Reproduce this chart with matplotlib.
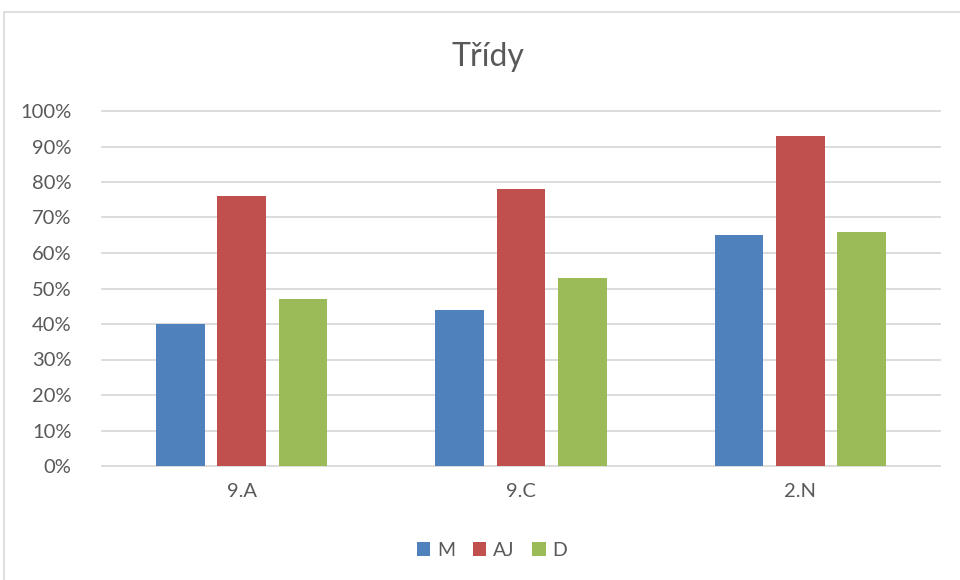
import matplotlib
matplotlib.use("Agg")
import matplotlib.pyplot as plt
import numpy as np
from matplotlib.patches import Rectangle
from matplotlib.ticker import PercentFormatter

categories = ["9.A", "9.C", "2.N"]
series_names = ["M", "AJ", "D"]
values_M = [40, 44, 65]
values_AJ = [76, 78, 93]
values_D = [47, 53, 66]
yticks = [0, 10, 20, 30, 40, 50, 60, 70, 80, 90, 100]
colors = ["#4F81BD", "#C0504D", "#9BBB59"]

plt.rcParams['font.family'] = ['Lato', 'DejaVu Sans']
text_color = "#595959"

fig = plt.figure(figsize=(9.6, 5.8), dpi=100)
fig.patches.append(Rectangle((4/960, -0.05), 1.2, (580-12)/580 + 0.05,
                             transform=fig.transFigure, fill=False,
                             edgecolor="#D9D9D9", linewidth=1.2))

ax = fig.add_axes([102/960, 1-466/580, (940-102)/960, (466-111)/580])
x = np.arange(len(categories))
w = 0.174
step = 0.22
for i, (name, vals) in enumerate(zip(series_names, [values_M, values_AJ, values_D])):
    ax.bar(x + (i-1)*step, vals, width=w, color=colors[i], label=name, zorder=3)

ax.set_xlim(-0.5, len(categories)-0.5)
ax.set_ylim(0, 100)
ax.set_yticks(yticks)
ax.yaxis.set_major_formatter(PercentFormatter(decimals=0))
for v in yticks:
    ax.axhline(v, color="#D9D9D9", linewidth=1.3, zorder=1, clip_on=False)
for s in ax.spines.values():
    s.set_visible(False)
ax.set_xticks(x)
ax.set_xticklabels(categories)
ax.tick_params(axis='both', length=0, labelsize=14.5, labelcolor=text_color)
ax.tick_params(axis='y', pad=22)
ax.tick_params(axis='x', pad=12)

fig.text(488/960, 1-57/580, "Třídy", ha='center', va='center',
         fontsize=23, color=text_color)

leg = fig.legend(loc='center', bbox_to_anchor=(492/960, 1-550/580), ncol=3,
                 frameon=False, fontsize=14, handlelength=0.7, handleheight=0.7,
                 handletextpad=0.35, columnspacing=0.9)
for t in leg.get_texts():
    t.set_color(text_color)

fig.savefig("out.png", dpi=100)
